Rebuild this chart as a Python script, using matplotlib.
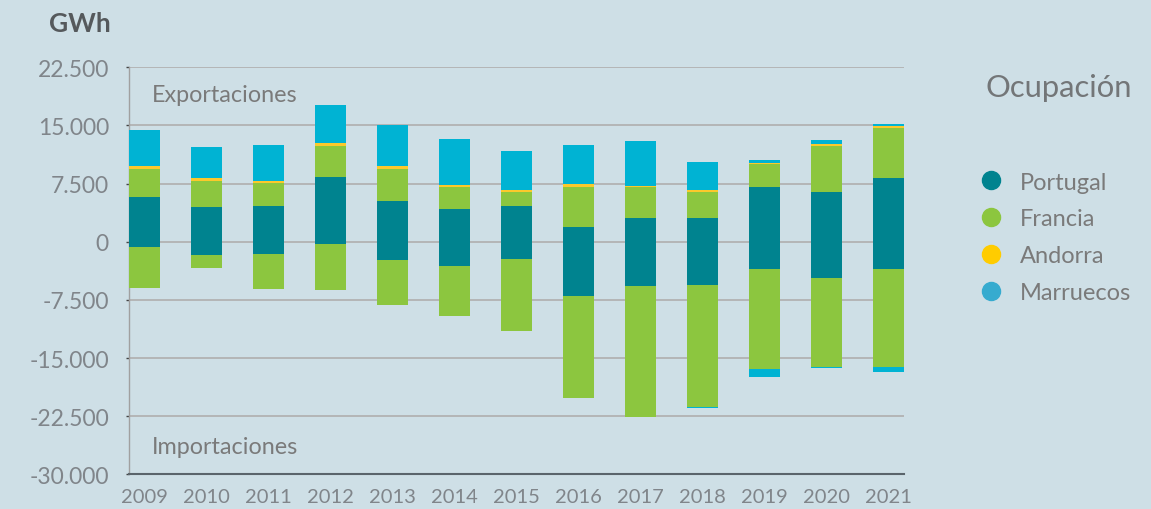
import matplotlib.pyplot as plt
from matplotlib.lines import Line2D
import numpy as np

plt.rcParams['font.family'] = ['Lato', 'DejaVu Sans']

# años
years = ['2009', '2010', '2011', '2012', '2013', '2014', '2015',
         '2016', '2017', '2018', '2019', '2020', '2021']

# exportaciones (GWh)
portugal_exp = [5740, 4450, 4580, 8300, 5230, 4190, 4580, 1870, 3030, 3030, 7030, 6390, 8190]
francia_exp = [3610, 3350, 2970, 4000, 4120, 2840, 1810, 5160, 4000, 3360, 2970, 5930, 6460]
andorra_exp = [390, 390, 250, 400, 390, 260, 260, 390, 130, 260, 130, 260, 250]
marruecos_exp = [4650, 4000, 4650, 4900, 5290, 5910, 5030, 5030, 5810, 3610, 390, 520, 260]

# importaciones (GWh, negativas)
portugal_imp = [-710, -1740, -1610, -320, -2390, -3160, -2260, -7030, -5740, -5600, -3550, -4710, -3550]
francia_imp = [-5290, -1680, -4520, -5940, -5800, -6450, -9290, -13160, -16910, -15750, -12900, -11480, -12640]
andorra_imp = [0, 0, 0, 0, 0, 0, 0, 0, 0, 0, 0, 0, 0]
marruecos_imp = [0, 0, 0, 0, 0, 0, 0, 0, 0, -150, -1030, -130, -650]

paises = ['Portugal', 'Francia', 'Andorra', 'Marruecos']
colores = ['#00838f', '#8cc63f', '#fcc92b', '#00b3d3']
colores_leyenda = ['#00838f', '#8cc63f', '#ffcc00', '#36abcf']

bg = '#cedfe6'
gris = '#80858a'
fig = plt.figure(figsize=(11.51, 5.1), dpi=100, facecolor=bg)
ax = fig.add_axes([0.1121, 0.068, 0.6733, 0.798])
ax.set_facecolor(bg)

x = np.arange(len(years))
w = 0.5

# positivo
base = np.zeros(len(years))
for vals, c in zip([portugal_exp, francia_exp, andorra_exp, marruecos_exp], colores):
    ax.bar(x, vals, w, bottom=base, color=c, zorder=3, linewidth=0)
    base += np.array(vals)

# negativo
base = np.zeros(len(years))
for vals, c in zip([portugal_imp, francia_imp, andorra_imp, marruecos_imp], colores):
    ax.bar(x, vals, w, bottom=base, color=c, zorder=3, linewidth=0)
    base += np.array(vals)

ax.set_xlim(-0.25, len(years) - 0.75)
ax.set_ylim(-30000, 22500)
yt = [22500, 15000, 7500, 0, -7500, -15000, -22500, -30000]
ax.set_yticks(yt)
ax.set_yticklabels(['{:,}'.format(v).replace(',', '.') for v in yt])
ax.set_xticks(x)
ax.set_xticklabels(years)

ax.grid(axis='y', color='#b2b2b2', linewidth=1.3, zorder=0)
ax.tick_params(axis='y', length=2, width=1, color='#444444', labelsize=16.5,
               labelcolor=gris, pad=12.5)
ax.tick_params(axis='x', length=0, labelsize=14.5, labelcolor=gris, pad=10)

for s in ['top', 'right']:
    ax.spines[s].set_visible(False)
ax.spines['left'].set_color('#a0a0a0')
ax.spines['left'].set_linewidth(1)
ax.spines['bottom'].set_color('#5a646b')
ax.spines['bottom'].set_linewidth(1.5)

ax.text(0.03, 0.934, 'Exportaciones', transform=ax.transAxes, fontsize=16.8,
        color='#7a7a7a', va='center', ha='left')
ax.text(0.03, 0.069, 'Importaciones', transform=ax.transAxes, fontsize=16.8,
        color='#7a7a7a', va='center', ha='left')

fig.text(0.096, 0.953, 'GWh', fontsize=19, fontweight='bold', color='#55595c',
         ha='right', va='center')

fig.text(0.856, 0.827, 'Ocupación', fontsize=22.3, color='#737678',
         ha='left', va='center')

handles = [Line2D([0], [0], marker='o', linestyle='', markersize=13,
                  markerfacecolor=c, markeredgecolor=c) for c in colores_leyenda]
leg = fig.legend(handles, paises, loc='upper left', bbox_to_anchor=(0.8325, 0.68),
                 frameon=False, fontsize=17, labelspacing=0.67, handletextpad=0.22,
                 borderaxespad=0)
for t in leg.get_texts():
    t.set_color('#7a7a7a')

fig.savefig('out.png', dpi=100, facecolor=bg)
